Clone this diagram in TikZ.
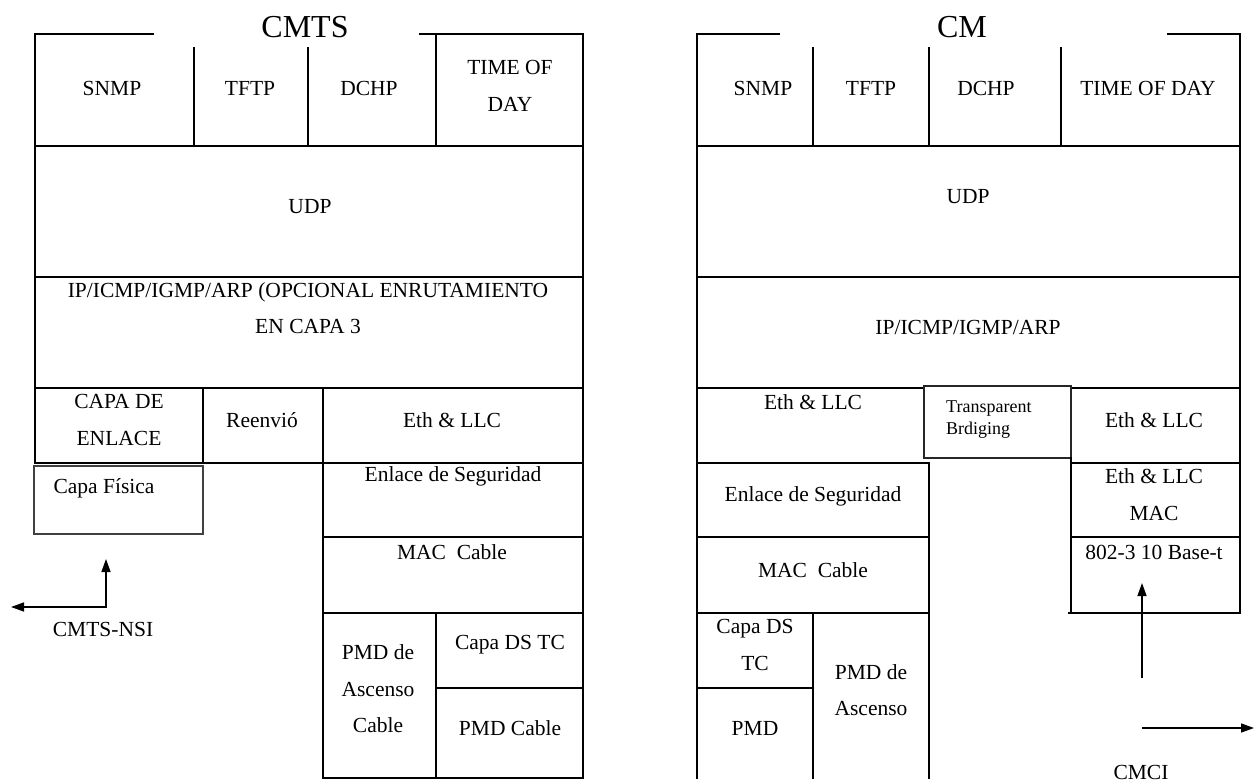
\documentclass[tikz,border=0pt]{standalone}
\usepackage{fontspec}
\setmainfont{Liberation Serif}
\usetikzlibrary{arrows.meta}
\begin{document}
\begin{tikzpicture}[x=1pt,y=-1pt,
  frame/.style={line width=1.7pt, line cap=rect},
  thinbox/.style={line width=1.3pt, draw=black!75},
  lbl/.style={inner sep=0pt, font=\fontsize{21.5}{36.5}\selectfont, align=center},
  smalllbl/.style={inner sep=0pt, font=\fontsize{18}{22}\selectfont, align=left},
  ttl/.style={inner sep=0pt, font=\fontsize{32}{36}\selectfont},
  arr/.style={line width=1.5pt, -{Triangle[length=13pt,width=9pt]}},
  arrboth/.style={line width=1.5pt, {Triangle[length=13pt,width=9pt]}-{Triangle[length=13pt,width=9pt]}},
]
\useasboundingbox (0,0) rectangle (1255,783);

% ================= CMTS =================
\draw[frame] (35,34) -- (153,34);
\draw[frame] (420,34) -- (583,34);
\draw[frame] (35,34) -- (35,463);
\draw[frame] (583,34) -- (583,778);
\draw[frame] (194,48) -- (194,146);
\draw[frame] (308,48) -- (308,146);
\draw[frame] (436,34) -- (436,146);
\draw[frame] (35,146) -- (583,146);
\draw[frame] (35,277) -- (583,277);
\draw[frame] (35,388) -- (583,388);
\draw[frame] (35,463) -- (583,463);
\draw[frame] (203,388) -- (203,463);
\draw[frame] (323,388) -- (323,778);
\draw[thinbox] (34,466) rectangle (203,534);
\draw[frame] (323,537) -- (583,537);
\draw[frame] (323,613) -- (583,613);
\draw[frame] (436,613) -- (436,778);
\draw[frame] (436,688) -- (583,688);
\draw[frame] (323,778) -- (583,778);

\node[ttl] (cmtsT) at (305,27) {CMTS};
\node[lbl] (c1) at (112,88) {SNMP};
\node[lbl] (c2) at (250,88) {TFTP};
\node[lbl] (c3) at (369,88) {DCHP};
\node[lbl] (c4) at (510,86) {TIME OF\\DAY};
\node[lbl] (c5) at (310,207) {UDP};
\node[lbl] (c6) at (308,308) {IP/ICMP/IGMP/ARP (OPCIONAL ENRUTAMIENTO\\EN CAPA 3};
\node[lbl] (c7) at (119,420) {CAPA DE\\ENLACE};
\node[lbl] (c8) at (262,420) {Reenvió};
\node[lbl] (c9) at (452,420) {Eth \& LLC};
\node[lbl] (c10) at (104,488) {Capa Física};
\node[lbl] (c11) at (453,476) {Enlace de Seguridad};
\node[lbl] (c12) at (452,552) {MAC\ \ Cable};
\node[lbl] (c13) at (378,689) {PMD de\\Ascenso\\Cable};
\node[lbl] (c14) at (510,645) {Capa DS TC};
\node[lbl] (c15) at (510,728) {PMD Cable};
\node[lbl] (nsi) at (103,629) {CMTS-NSI};

\coordinate (nsiL) at (11,607);
\coordinate (nsiC) at (106,607);
\coordinate (nsiT) at (106,559);
\draw[arrboth] (nsiL) -- (nsiC) -- (nsiT);

% ================= CM =================
\draw[frame] (697,34) -- (779,34);
\draw[frame] (1168,34) -- (1240,34);
\draw[frame] (697,34) -- (697,778);
\draw[frame] (1240,34) -- (1240,613);
\draw[frame] (813,48) -- (813,146);
\draw[frame] (929,48) -- (929,146);
\draw[frame] (1061,48) -- (1061,146);
\draw[frame] (697,146) -- (1240,146);
\draw[frame] (697,277) -- (1240,277);
\draw[frame] (697,388) -- (924,388);
\draw[frame] (1071,388) -- (1240,388);
\draw[line width=1.5pt, draw=black!85] (924,386) rectangle (1071,458);
\draw[frame] (697,463) -- (929,463);
\draw[frame] (929,463) -- (929,778);
\draw[frame] (697,537) -- (929,537);
\draw[frame] (697,613) -- (929,613);
\draw[frame] (813,613) -- (813,778);
\draw[frame] (697,688) -- (813,688);
\draw[frame] (1071,458) -- (1071,613);
\draw[frame] (1071,463) -- (1240,463);
\draw[frame] (1071,537) -- (1240,537);
\draw[frame] (1069,613) -- (1240,613);

\node[ttl] (cmT) at (962,27) {CM};
\node[lbl] (m1) at (763,88) {SNMP};
\node[lbl] (m2) at (871,88) {TFTP};
\node[lbl] (m3) at (986,88) {DCHP};
\node[lbl] (m4) at (1148,88) {TIME OF DAY};
\node[lbl] (m5) at (968,197) {UDP};
\node[lbl] (m6) at (968,327) {IP/ICMP/IGMP/ARP};
\node[lbl] (m7) at (813,402) {Eth \& LLC};
\node[smalllbl, anchor=west] (m8) at (946,420) {Transparent\\Brdiging};
\node[lbl] (m9) at (1154,420) {Eth \& LLC};
\node[lbl] (m10) at (1154,494.5) {Eth \& LLC\\MAC};
\node[lbl] (m11) at (1154,552) {802-3 10 Base-t};
\node[lbl] (m12) at (813,496) {Enlace de Seguridad};
\node[lbl] (m13) at (813,570) {MAC\ \ Cable};
\node[lbl] (m14) at (755,645) {Capa DS\\TC};
\node[lbl] (m15) at (755,728) {PMD};
\node[lbl] (m16) at (871,690) {PMD de\\Ascenso};
\node[lbl] (cmci) at (1141,772) {CMCI};

\coordinate (ciB) at (1142,678);
\coordinate (ciT) at (1142,583);
\coordinate (ciL) at (1142,728);
\coordinate (ciR) at (1254,728);
\draw[arr] (ciB) -- (ciT);
\draw[arr] (ciL) -- (ciR);
\end{tikzpicture}
\end{document}
